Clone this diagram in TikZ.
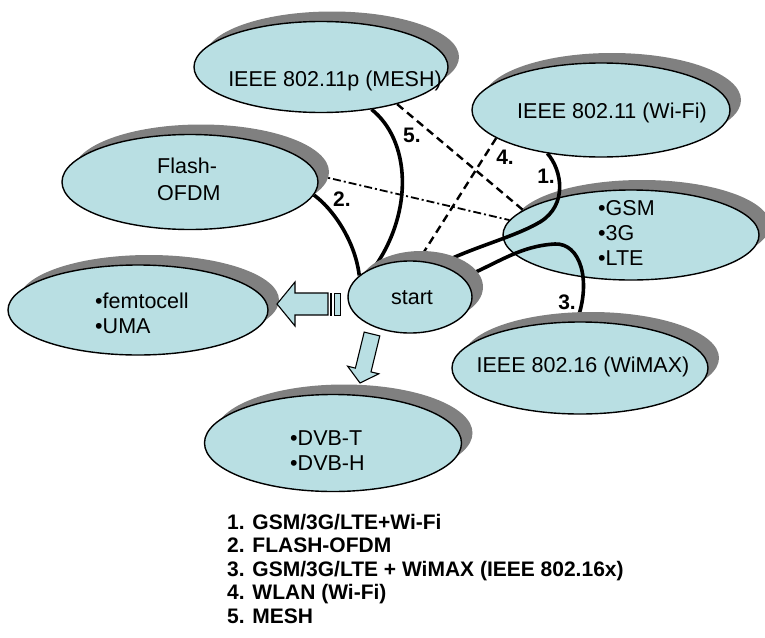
\documentclass[tikz,border=0pt]{standalone}
\usepackage{fontspec}
\setmainfont{Liberation Sans}
\usetikzlibrary{shapes.geometric,shadows}
\definecolor{ellfill}{HTML}{B9DFE3}
\definecolor{shadowgray}{HTML}{808080}
\pgfdeclarelayer{back}
\pgfdeclarelayer{mid}
\pgfsetlayers{back,mid,main}
\begin{document}
\begin{tikzpicture}[x=1pt,y=-1pt,
  ell/.style={ellipse,draw=black,line width=1.4pt,fill=ellfill,inner sep=0pt,
     drop shadow={shadow xshift=11pt,shadow yshift=10pt,opacity=1,fill=shadowgray,draw=none}},
  lbl/.style={font=\fontsize{21.5}{25}\selectfont,inner sep=0pt},
  num/.style={font=\fontsize{21}{21}\selectfont\bfseries,inner sep=0pt},
  thickline/.style={line width=3.6pt},
  dashline/.style={line width=2.4pt,dash pattern=on 8pt off 5pt},
  dashdotline/.style={line width=1.8pt,dash pattern=on 8pt off 3pt on 2pt off 3pt},
  blockarrow/.style={fill=ellfill,draw=black,line width=1.1pt,line join=miter},
  stripe/.style={fill=ellfill,draw=black,line width=0.8pt}
]
\useasboundingbox (0,0) rectangle (765,637);

\begin{pgfonlayer}{back}
\node[ell,minimum width=254pt,minimum height=91pt] (mesh) at (321,67) {};
\node[ell,minimum width=258pt,minimum height=94pt] (wifi) at (601,110) {};
\node[ell,minimum width=256pt,minimum height=90pt] (gsm) at (631,235) {};
\node[ell,minimum width=260pt,minimum height=90pt] (femto) at (138,310) {};
\node[ell,minimum width=257pt,minimum height=97pt] (dvb) at (333,443) {};
\end{pgfonlayer}

\node[ell,minimum width=256pt,minimum height=95pt] (flash) at (190,182) {};
\node[ell,minimum width=124pt,minimum height=72pt] (start) at (410,297) {};
\node[ell,minimum width=256pt,minimum height=92pt] (wimax) at (580,368) {};

\begin{pgfonlayer}{mid}
\draw[thickline] (mesh.-40) .. controls (410,140) and (414,210) .. (start.139);
\draw[thickline] (flash.-6) .. controls (332,208) and (355,240) .. (start.157);
\draw[dashdotline] (flash.3) -- (gsm.173);
\draw[dashline] (mesh.-26) -- (gsm.167);
\draw[dashline] (wifi.-165) -- (start.77);
\draw[thickline] (wifi.-141) .. controls (562,170) and (568,205) .. (540,222)
   .. controls (515,237) and (470,248) .. (start.48);
\draw[thickline] (start.20) .. controls (500,262) and (520,246) .. (555,244)
   .. controls (580,243) and (592,280) .. (wimax.94);
\end{pgfonlayer}

% block arrows
\draw[blockarrow] (277,304) -- (295,282) -- (295,293) -- (328,293) -- (328,315)
   -- (295,315) -- (295,326) -- cycle;
\draw[stripe] (330,293) rectangle (331.5,315);
\draw[stripe] (334,293) rectangle (340,315);
\draw[blockarrow] (364.2,332.1) -- (379.8,335.9) -- (371,371.9) -- (378.8,373.8)
   -- (360,383) -- (347.6,366.2) -- (355.4,368.1) -- cycle;

% connector labels
\node[num] (n5) at (412,135) {5.};
\node[num] (n4) at (505,157) {4.};
\node[num] (n1) at (546,176) {1.};
\node[num] (n2) at (342,199) {2.};
\node[num] (n3) at (567,302) {3.};

% texts
\node[lbl,anchor=base] (meshT) at (335,86) {IEEE 802.11p (MESH)};
\node[lbl,anchor=base] (wifiT) at (612,118) {IEEE 802.11 (Wi-Fi)};
\node[lbl,font=\fontsize{21.5}{27}\selectfont,anchor=base west] (flashT) at (157,173)
   {\begin{tabular}[t]{@{}l@{}}Flash-\\OFDM\end{tabular}};
\node[lbl,anchor=base west] (femtoT) at (95,308)
   {\begin{tabular}[t]{@{}l@{}}•femtocell\\•UMA\end{tabular}};
\node[lbl,anchor=base west] (gsmT) at (598,215)
   {\begin{tabular}[t]{@{}l@{}}•GSM\\•3G\\•LTE\end{tabular}};
\node[lbl,anchor=base] (startT) at (412,304) {start};
\node[lbl,anchor=base] (wimaxT) at (583,372) {IEEE 802.16 (WiMAX)};
\node[lbl,anchor=base west] (dvbT) at (290,445)
   {\begin{tabular}[t]{@{}l@{}}•DVB-T\\•DVB-H\end{tabular}};

% legend
\node[anchor=base west,inner sep=0pt,font=\fontsize{21}{23.5}\selectfont\bfseries] (legend) at (227,529)
   {\begin{tabular}[t]{@{}l@{}}1. GSM/3G/LTE+Wi-Fi\\2. FLASH-OFDM\\3. GSM/3G/LTE + WiMAX (IEEE 802.16x)\\4. WLAN (Wi-Fi)\\5. MESH\end{tabular}};
\end{tikzpicture}
\end{document}
